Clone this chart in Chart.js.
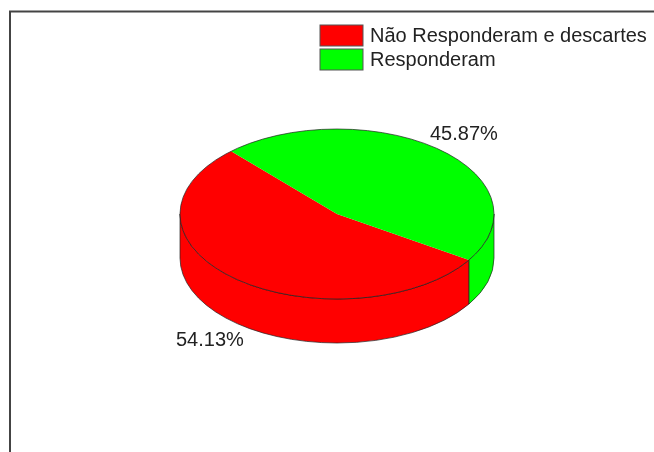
<!DOCTYPE html>
<html>
<head>
<meta charset="utf-8">
<style>
  html, body { margin: 0; padding: 0; background: #fff; overflow: hidden; }
  canvas { display: block; }
</style>
<script src="https://cdn.jsdelivr.net/npm/chart.js@4/dist/chart.umd.min.js"></script>
</head>
<body>
<canvas id="chart" width="654" height="452"></canvas>
<script>
const categories = ["Não Responderam e descartes", "Responderam"];
const percentages = [54.13, 45.87];
const sliceColors = ["#ff0000", "#00ff00"];

// ellipse look of the tilted pie
const squash = 85 / 157;
const depth = 44;
const fontName = '"Liberation Sans", Arial, sans-serif';

// outline + side wall, drawn under the flattened pie
const pie3d = {
  id: "pie3d",
  beforeDatasetsDraw(chart) {
    const ctx = chart.ctx;
    const arcs = chart.getDatasetMeta(0).data;
    const cx = arcs[0].x, cy = arcs[0].y, r = arcs[0].outerRadius;
    const ry = r * squash;

    arcs.forEach((arc, i) => {
      // only the front half of the wall is visible
      const segments = [[arc.startAngle, arc.endAngle], [arc.startAngle - 2 * Math.PI, arc.endAngle - 2 * Math.PI]];
      segments.forEach(([a0, b0]) => {
        const a = Math.max(a0, 0), b = Math.min(b0, Math.PI);
        if (b <= a) return;
        ctx.beginPath();
        ctx.ellipse(cx, cy, r, ry, 0, a, b);
        ctx.ellipse(cx, cy + depth, r, ry, 0, b, a, true);
        ctx.closePath();
        ctx.fillStyle = sliceColors[i];
        ctx.fill();
        ctx.strokeStyle = "#222";
        ctx.lineWidth = 0.7;
        ctx.stroke();
      });
    });

    ctx.save();
    ctx.translate(cx, cy);
    ctx.scale(1, squash);
    ctx.translate(-cx, -cy);
  },
  afterDatasetsDraw(chart) {
    const ctx = chart.ctx;
    ctx.restore();
    const arc = chart.getDatasetMeta(0).data[0];
    ctx.beginPath();
    ctx.ellipse(arc.x, arc.y, arc.outerRadius, arc.outerRadius * squash, 0, 0, 2 * Math.PI);
    ctx.strokeStyle = "#222";
    ctx.lineWidth = 0.7;
    ctx.stroke();
  }
};

// frame, legend and percent labels
const decorations = {
  id: "decorations",
  beforeDraw(chart) {
    const ctx = chart.ctx;
    ctx.beginPath();
    ctx.moveTo(10, 452);
    ctx.lineTo(10, 11.5);
    ctx.lineTo(654, 11.5);
    ctx.strokeStyle = "#444";
    ctx.lineWidth = 2;
    ctx.stroke();
  },
  afterDraw(chart) {
    const ctx = chart.ctx;
    ctx.fillStyle = "#222";
    ctx.textBaseline = "alphabetic";
    ctx.textAlign = "left";

    categories.forEach((name, i) => {
      const top = 25 + i * 24;
      ctx.fillStyle = sliceColors[i];
      ctx.fillRect(320, top, 43, 21);
      ctx.strokeStyle = "#555";
      ctx.lineWidth = 1;
      ctx.strokeRect(320, top, 43, 21);
      ctx.fillStyle = "#222";
      ctx.font = "20px " + fontName;
      ctx.fillText(name, 370, top + 17);
    });

    const labelSpots = [[176, 346], [430, 140]];
    percentages.forEach((v, i) => {
      ctx.fillText(v.toFixed(2) + "%", labelSpots[i][0], labelSpots[i][1]);
    });
  }
};

new Chart(document.getElementById("chart"), {
  type: "pie",
  data: {
    labels: categories,
    datasets: [{
      data: percentages,
      backgroundColor: sliceColors,
      borderWidth: 0
    }]
  },
  options: {
    responsive: false,
    animation: false,
    rotation: 122.75,
    layout: { padding: { left: 180, right: 160, top: 57, bottom: 81 } },
    plugins: {
      legend: { display: false },
      tooltip: { enabled: false }
    }
  },
  plugins: [decorations, pie3d]
});
</script>
</body>
</html>
